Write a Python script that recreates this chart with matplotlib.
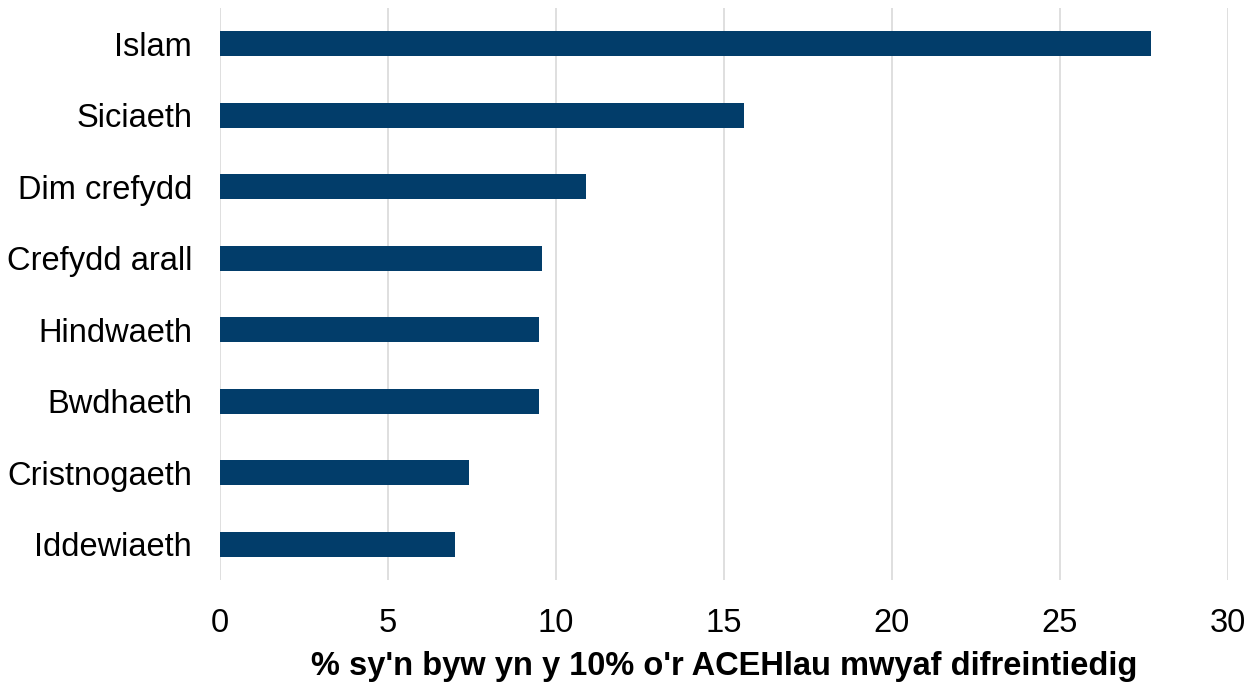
import matplotlib.pyplot as plt

# data
religions = ["Islam", "Siciaeth", "Dim crefydd", "Crefydd arall", "Hindwaeth",
             "Bwdhaeth", "Cristnogaeth", "Iddewiaeth"]
values = [27.7, 15.6, 10.9, 9.6, 9.5, 9.5, 7.4, 7.0]
xticks = [0, 5, 10, 15, 20, 25, 30]

plt.rcParams['font.family'] = ['Liberation Sans', 'DejaVu Sans']

fig = plt.figure(figsize=(12.55, 6.84), dpi=100)
ax = fig.add_axes([0.1753, 0.152, 0.803, 0.836])

pos = list(range(len(religions)))[::-1]
ax.barh(pos, values, height=0.35, color="#023d6a", zorder=3)

ax.set_ylim(-0.5, len(religions) - 0.5)
ax.set_xlim(0, 30)
ax.set_yticks(pos)
ax.set_yticklabels(religions, fontsize=23.5)
ax.set_xticks(xticks)
ax.set_xticklabels([str(t) for t in xticks], fontsize=23.5)
ax.tick_params(axis="both", length=0, colors="black")
ax.tick_params(axis="y", pad=20)
ax.tick_params(axis="x", pad=20)

ax.grid(axis="x", color="#d9d9d9", lw=1.2, zorder=0)
for s in ax.spines.values():
    s.set_visible(False)

ax.set_xlabel("% sy'n byw yn y 10% o'r ACEHlau mwyaf difreintiedig",
              fontsize=23.5, fontweight="bold", labelpad=9)

fig.savefig("out.png", dpi=100)
